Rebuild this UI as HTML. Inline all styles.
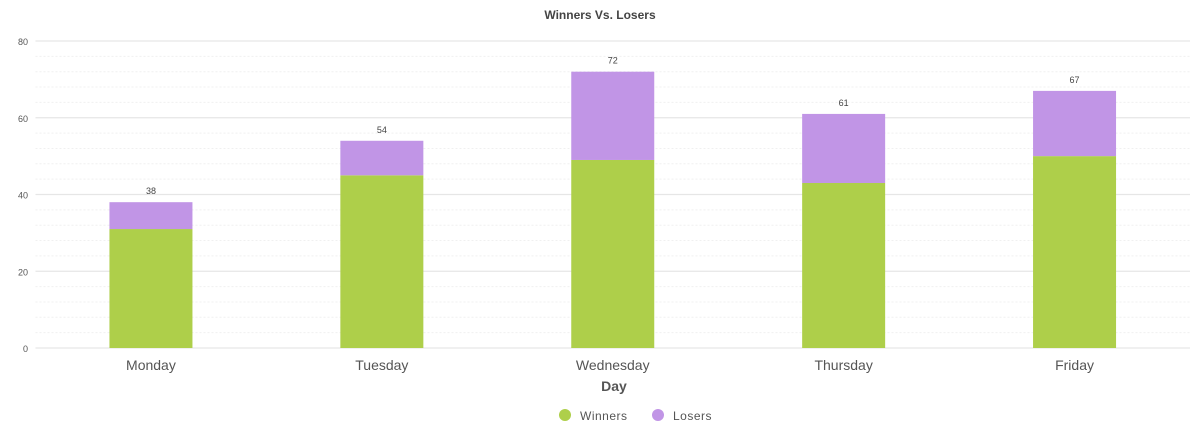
<!DOCTYPE html>
<html><head><meta charset="utf-8"><style>
body{margin:0;background:#fff;font-family:"Liberation Sans",sans-serif}
</style></head><body>
<svg id="chart" width="1200" height="440" xmlns="http://www.w3.org/2000/svg">
<text x="600" y="19" text-anchor="middle" font-size="12" font-weight="bold" fill="#444">Winners Vs. Losers</text>
<g id="grid"></g><g id="bars"></g><g id="labels"></g>
<text x="614" y="391" text-anchor="middle" font-size="14" font-weight="bold" fill="#555">Day</text>
<g>
<g><circle cx="565" cy="415" r="6" fill="#aecf4a"/><text x="580" y="420" font-size="12" fill="#555" letter-spacing="0.5">Winners</text></g>
<g><circle cx="658" cy="415" r="6" fill="#c195e6"/><text x="673" y="420" font-size="12" fill="#555" letter-spacing="0.5">Losers</text></g>
</g>
</svg>
<script>
const categories=["Monday","Tuesday","Wednesday","Thursday","Friday"];
const winners=[31,45,49,43,50];
const losers=[7,9,23,18,17];
const yTicks=[0,20,40,60,80];
const NS="http://www.w3.org/2000/svg";
const x0=35.5,x1=1190,y0=348,yTop=41,yMax=80;
const band=(x1-x0)/categories.length;
const y=v=>y0-(v/yMax)*(y0-yTop);
function mk(t,a,p){const e=document.createElementNS(NS,t);for(const k in a)e.setAttribute(k,a[k]);p.appendChild(e);return e;}
const g=document.getElementById('grid'),b=document.getElementById('bars'),l=document.getElementById('labels');
for(let v=0;v<=yMax;v+=4){
 const major=v%20===0;
 const ln=mk('line',{x1:x0,x2:x1,y1:y(v),y2:y(v),stroke:major?'#e6e6e6':'#f0f0f0','stroke-width':major?1.2:1,'stroke-dasharray':major?'':'2,2'},g);
 
 
}
yTicks.forEach(v=>{
 const t=mk('text',{x:28,y:y(v)+4,'text-anchor':'end','font-size':9,fill:'#555'},l);t.textContent=v;
 
 
});
categories.forEach((c,i)=>{
 const cx=x0+band*(i+0.5),w=83;
 const r1=mk('rect',{x:cx-w/2,y:y(winners[i]),width:w,height:y(0)-y(winners[i]),fill:'#aecf4a'},b);
 
 
 const tot=winners[i]+losers[i];
 const r2=mk('rect',{x:cx-w/2,y:y(tot),width:w,height:y(winners[i])-y(tot),fill:'#c195e6'},b);
 
 
 const tl=mk('text',{x:cx,y:y(tot)-8,'text-anchor':'middle','font-size':9,fill:'#444'},l);tl.textContent=tot;
 
 
 const xl=mk('text',{x:cx,y:370,'text-anchor':'middle','font-size':14,fill:'#555'},l);xl.textContent=c;
 
 
});
</script>
</body></html>
